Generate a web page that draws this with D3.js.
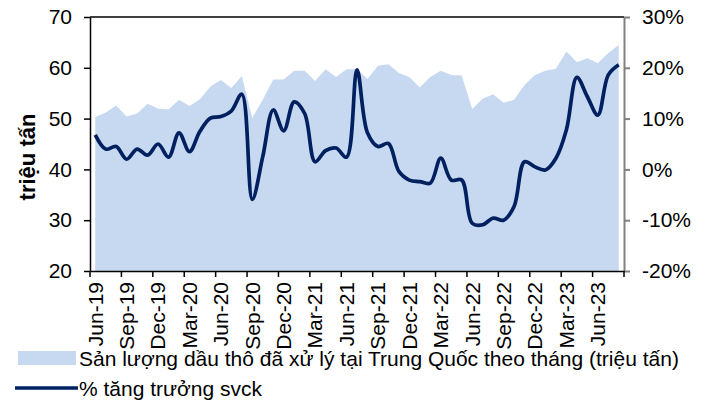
<!DOCTYPE html>
<html>
<head>
<meta charset="utf-8">
<script src="https://cdn.jsdelivr.net/npm/d3@7"></script>
<style>
  body { margin: 0; background: #fff; }
  svg { display: block; font-family: "Liberation Sans", Arial, sans-serif; }
  .axis text { font-size: 21px; fill: #000; }
</style>
</head>
<body>
<svg id="chart" width="707" height="403"></svg>
<script>
// ----------------------
// data
// ----------------------
const months = [
  "Jun-19","Jul-19","Aug-19","Sep-19","Oct-19","Nov-19","Dec-19","Jan-20","Feb-20","Mar-20",
  "Apr-20","May-20","Jun-20","Jul-20","Aug-20","Sep-20","Oct-20","Nov-20","Dec-20","Jan-21",
  "Feb-21","Mar-21","Apr-21","May-21","Jun-21","Jul-21","Aug-21","Sep-21","Oct-21","Nov-21",
  "Dec-21","Jan-22","Feb-22","Mar-22","Apr-22","May-22","Jun-22","Jul-22","Aug-22","Sep-22",
  "Oct-22","Nov-22","Dec-22","Jan-23","Feb-23","Mar-23","Apr-23","May-23","Jun-23","Jul-23",
  "Aug-23"
];

// crude throughput, million tonnes (left axis)
const throughput = [
  50.3, 51.2, 52.6, 50.4, 51.0, 52.9, 52.0, 51.8, 53.7, 52.5,
  53.8, 56.3, 57.6, 56.0, 58.4, 50.1, 53.7, 57.7, 57.7, 59.4,
  59.4, 57.4, 59.7, 58.2, 59.7, 59.7, 57.8, 60.4, 60.7, 59.0,
  58.2, 56.1, 58.2, 59.4, 58.6, 58.5, 51.9, 53.9, 54.8, 53.1,
  53.7, 56.6, 58.6, 59.4, 59.8, 63.2, 61.1, 61.9, 60.9, 62.9,
  64.5
];

// yoy growth, % (right axis)
const growth = [
  6.8, 4.0, 4.5, 2.0, 4.0, 2.8, 5.0, 2.4, 7.2, 3.5,
  7.5, 10.1, 10.4, 11.5, 14.8, -5.9, 2.5, 11.7, 7.6, 13.3,
  11.0, 1.5, 3.7, 4.2, 2.4, 19.6, 7.2, 4.5, 5.1, -0.4,
  -2.1, -2.4, -2.7, 2.2, -2.1, -2.1, -10.6, -10.9, -9.6, -10.0,
  -7.3, 1.5, 0.5, -0.1, 2.2, 7.8, 18.1, 14.3, 10.7, 18.6,
  20.6
];

const leftTicks = [20, 30, 40, 50, 60, 70];
const rightTicks = [-20, -10, 0, 10, 20, 30];
const labelMonths = months.filter((m, i) => i % 3 === 0);

const areaLabel = "Sản lượng dầu thô đã xử lý tại Trung Quốc theo tháng (triệu tấn)";
const lineLabel = "% tăng trưởng svck";

// ----------------------
// layout
// ----------------------
const svg = d3.select("#chart");
const plot = { left: 90, right: 624, top: 17, bottom: 271 };

const x = d3.scaleBand().domain(months).range([plot.left, plot.right]).padding(0);
const cx = m => x(m) + x.bandwidth() / 2;
const yL = d3.scaleLinear().domain([20, 70]).range([plot.bottom, plot.top]);
const yR = d3.scaleLinear().domain([-20, 30]).range([plot.bottom, plot.top]);

const rows = months.map((m, i) => ({ m, v: throughput[i], g: growth[i] }));

// area
svg.append("path")
  .datum(rows)
  .attr("fill", "#c6d9f1")
  .attr("d", d3.area().x(d => cx(d.m)).y0(yL(20)).y1(d => yL(d.v)));

// top border
svg.append("line")
  .attr("x1", plot.left).attr("x2", plot.right)
  .attr("y1", plot.top).attr("y2", plot.top)
  .attr("stroke", "#000").attr("stroke-width", 1.5);

// growth line
svg.append("path")
  .datum(rows)
  .attr("fill", "none")
  .attr("stroke", "#002060")
  .attr("stroke-width", 3.7)
  .attr("stroke-linejoin", "round")
  .attr("d", d3.line().curve(d3.curveCatmullRom).x(d => cx(d.m)).y(d => yR(d.g)));

// left axis
const leftG = svg.append("g")
  .attr("class", "axis")
  .attr("transform", `translate(${plot.left},0)`)
  .call(d3.axisLeft(yL).tickValues(leftTicks).tickSize(6).tickPadding(12).tickSizeOuter(0));
leftG.selectAll("path, line").attr("stroke", "#000").attr("stroke-width", 1.5);

// right axis
const rightG = svg.append("g")
  .attr("class", "axis")
  .attr("transform", `translate(${plot.right},0)`)
  .call(d3.axisRight(yR).tickValues(rightTicks).tickSize(6).tickPadding(12).tickSizeOuter(0)
    .tickFormat(d => d + "%"));
rightG.selectAll("path, line").attr("stroke", "#808080").attr("stroke-width", 2);

// bottom axis: labels at band centres, ticks at band edges
const bottomG = svg.append("g")
  .attr("class", "axis")
  .attr("transform", `translate(0,${plot.bottom})`)
  .call(d3.axisBottom(x).tickValues(labelMonths).tickSize(0).tickSizeOuter(0));
bottomG.select(".domain").attr("stroke", "#000").attr("stroke-width", 1.5);
bottomG.selectAll(".tick text")
  .attr("transform", "rotate(-90)")
  .attr("text-anchor", "end")
  .attr("x", -11)
  .attr("y", 0)
  .attr("dy", "0.35em");

bottomG.selectAll("line.edge")
  .data(labelMonths.concat(["end"]))
  .join("line")
  .attr("class", "edge")
  .attr("x1", d => d === "end" ? plot.right : x(d))
  .attr("x2", d => d === "end" ? plot.right : x(d))
  .attr("y1", 0).attr("y2", 6)
  .attr("stroke", "#000").attr("stroke-width", 1.5);

// y label
svg.append("text")
  .attr("transform", `translate(35,157) rotate(-90)`)
  .attr("text-anchor", "middle")
  .style("font-size", "22px")
  .style("font-weight", "bold")
  .text("triệu tấn");

// legend
const legend = svg.append("g").style("font-size", "21px");
legend.append("rect")
  .attr("x", 18).attr("y", 351).attr("width", 58).attr("height", 14)
  .attr("fill", "#c6d9f1");
legend.append("text").attr("x", 79).attr("y", 366).text(areaLabel);
legend.append("line")
  .attr("x1", 15).attr("x2", 78).attr("y1", 388).attr("y2", 388)
  .attr("stroke", "#002060").attr("stroke-width", 3.7);
legend.append("text").attr("x", 79).attr("y", 396).text(lineLabel);
</script>
</body>
</html>
